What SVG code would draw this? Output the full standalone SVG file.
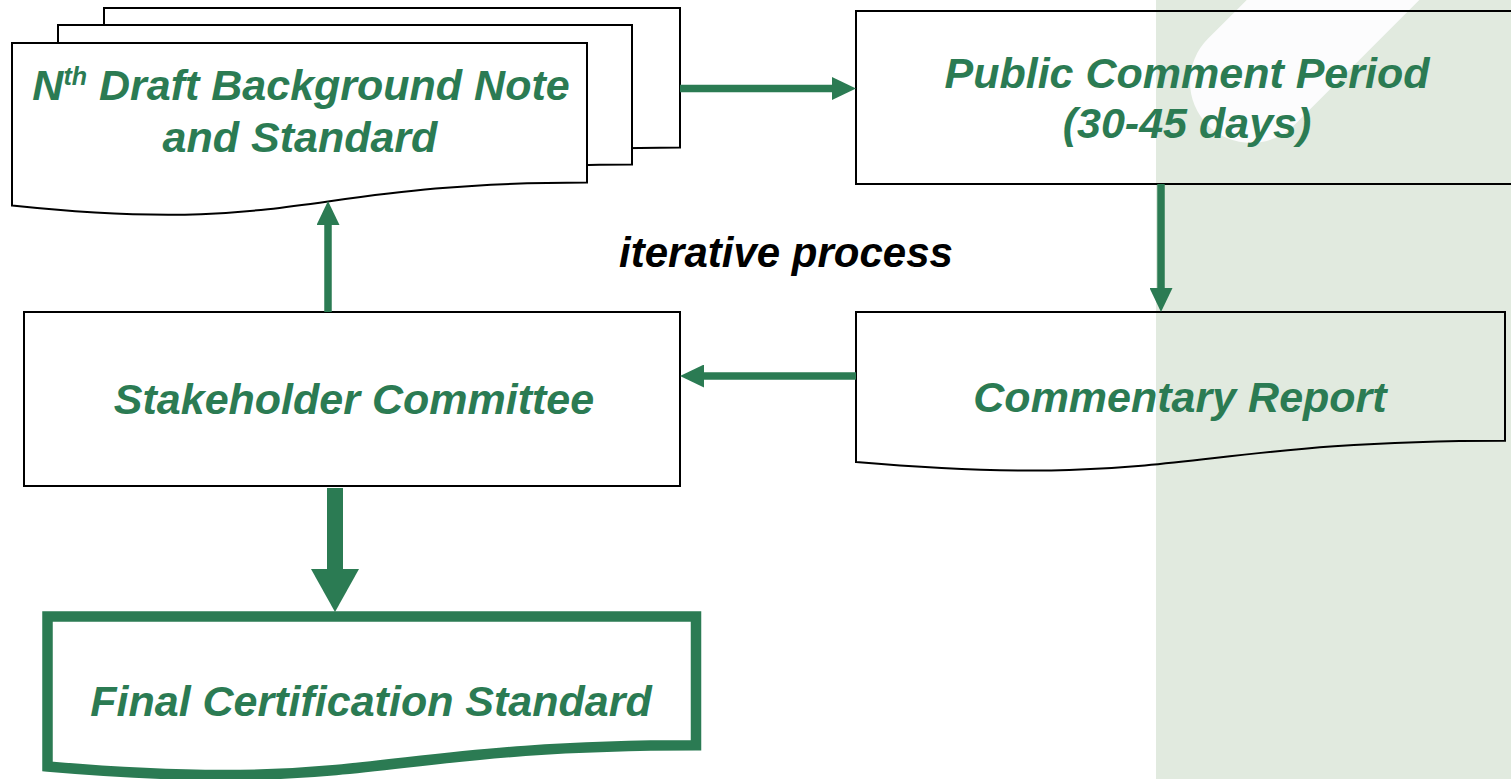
<svg xmlns="http://www.w3.org/2000/svg" width="1511" height="779" viewBox="0 0 1511 779">
  <style>
    .lbl { font-family: "Liberation Sans", Arial, sans-serif; font-weight: bold; font-style: italic; font-size: 43px; fill: #2b7b53; text-anchor: middle; }
    .note { fill: #000000; font-size: 42px; }
    .box { fill: #ffffff; stroke: #000000; stroke-width: 2; }
    .open { fill: none; stroke: #000000; stroke-width: 2; }
    .final { fill: #ffffff; stroke: #2b7b53; stroke-width: 10.5; }
    .flow { stroke: #2b7b53; stroke-width: 7.5; fill: none; }
    .flow-thick { stroke: #2b7b53; stroke-width: 16; fill: none; }
  </style>
  <defs>
    <marker id="head" markerUnits="userSpaceOnUse" viewBox="0 0 24 23" refX="0" refY="11.5" markerWidth="24" markerHeight="23" orient="auto">
      <path d="M0,0 L24,11.5 L0,23 Z" fill="#2b7b53"/>
    </marker>
    <marker id="head-big" markerUnits="userSpaceOnUse" viewBox="0 0 43 48" refX="0" refY="24" markerWidth="43" markerHeight="48" orient="auto">
      <path d="M0,0 L43,24 L0,48 Z" fill="#2b7b53"/>
    </marker>
  </defs>

  <!-- backdrop panel on the right with a pale diagonal band -->
  <rect x="1156" y="0" width="355" height="779" fill="#e1eadf"/>
  <line x1="1251" y1="82" x2="1520" y2="-187" stroke="#fcfcfd" stroke-width="122" stroke-linecap="round"/>

  <!-- stacked draft documents -->
  <g id="draft-note">
    <path class="box" d="M104,8 H680 V147.5 C392,147.5 392,200.7 104,170.5 Z"/>
    <path class="box" d="M58,25 H632 V164.5 C345,164.5 345,217.7 58,187.5 Z"/>
    <path class="box" d="M12,43 H587 V182.5 C299.5,182.5 299.5,235.7 12,205.5 Z"/>
    <text class="lbl" x="301" y="100">N<tspan font-size="25" dy="-15">th</tspan><tspan dy="15"> Draft Background Note</tspan></text>
    <text class="lbl" x="300" y="152">and Standard</text>
  </g>

  <!-- public comment period -->
  <g id="public-comment">
    <rect class="open" x="856" y="11" width="662" height="173"/>
    <text class="lbl" x="1187" y="88">Public Comment Period</text>
    <text class="lbl" x="1187" y="138">(30-45 days)</text>
  </g>

  <!-- commentary report -->
  <g id="commentary-report">
    <path class="open" d="M856,312 H1505 V440.8 C1180.5,440.8 1180.5,489.9 856,462 Z"/>
    <text class="lbl" x="1180" y="412">Commentary Report</text>
  </g>

  <!-- stakeholder committee -->
  <g id="stakeholder-committee">
    <rect class="box" x="24" y="312" width="656" height="174"/>
    <text class="lbl" x="354" y="414">Stakeholder Committee</text>
  </g>

  <!-- final certification standard -->
  <g id="final-standard">
    <path class="final" d="M47.5,616.5 H696 V745.3 C371.75,745.3 371.75,794.4 47.5,766.5 Z"/>
    <text class="lbl" x="371" y="716">Final Certification Standard</text>
  </g>

  <!-- cycle caption -->
  <g id="iterative-label">
    <text class="lbl note" x="786" y="267">iterative process</text>
  </g>

  <!-- connectors -->
  <g id="connectors">
    <line class="flow" x1="680" y1="88.5" x2="832" y2="88.5" marker-end="url(#head)"/>
    <line class="flow" x1="1161" y1="184" x2="1161" y2="288" marker-end="url(#head)"/>
    <line class="flow" x1="856" y1="376" x2="704" y2="376" marker-end="url(#head)"/>
    <line class="flow" x1="328" y1="312" x2="328" y2="225" marker-end="url(#head)"/>
    <line class="flow-thick" x1="335" y1="488" x2="335" y2="569" marker-end="url(#head-big)"/>
  </g>
</svg>
